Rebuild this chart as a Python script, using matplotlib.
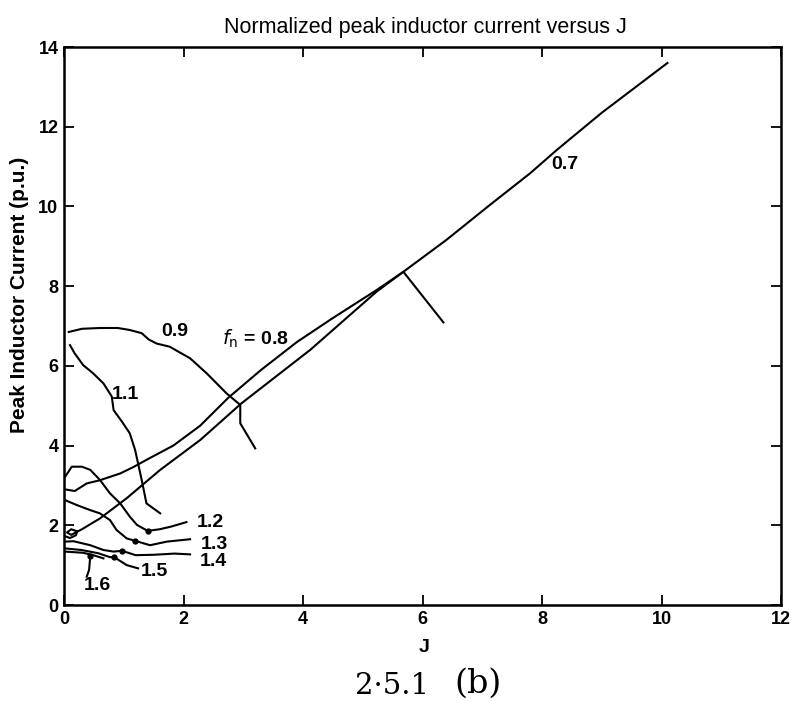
import matplotlib
matplotlib.use("Agg")
import matplotlib.pyplot as plt

plt.rcParams['font.family'] = ['Liberation Sans', 'DejaVu Sans']

# ---------------- data ----------------
# upper line (f_n = 0.7)
c07_x = [0.02, 0.18, 0.38, 0.6, 0.94, 1.16, 1.44, 1.83, 2.28, 2.75, 3.3, 3.9, 4.5, 5.23, 5.68, 6.4, 7.13, 7.8, 8.25, 9.0, 10.1]
c07_y = [2.9, 2.86, 3.05, 3.13, 3.3, 3.46, 3.69, 4.0, 4.5, 5.2, 5.9, 6.6, 7.2, 7.9, 8.36, 9.16, 10.04, 10.83, 11.42, 12.35, 13.6]
# lower line (f_n = 0.8), starting with a small loop, ending with a stub
c08_x = [0.03, 0.1, 0.2, 0.22, 0.12, 0.05, 0.12, 0.3, 0.6, 1.05, 1.61, 2.28, 2.97, 4.12, 5.23, 5.68, 6.35]
c08_y = [1.72, 1.68, 1.75, 1.85, 1.9, 1.82, 1.76, 1.9, 2.17, 2.68, 3.39, 4.14, 5.06, 6.40, 7.86, 8.36, 7.09]
# f_n = 0.9
c09_x = [0.08, 0.3, 0.6, 0.9, 1.1, 1.3, 1.42, 1.55, 1.77, 2.11, 2.39, 2.72, 2.95, 2.95, 3.2]
c09_y = [6.85, 6.93, 6.95, 6.95, 6.9, 6.82, 6.66, 6.56, 6.48, 6.19, 5.81, 5.31, 5.02, 4.56, 3.93]
# f_n = 1.1
c11_x = [0.1, 0.18, 0.32, 0.49, 0.66, 0.8, 0.83, 0.97, 1.1, 1.19, 1.24, 1.3, 1.38, 1.61]
c11_y = [6.52, 6.31, 6.02, 5.81, 5.56, 5.23, 4.89, 4.6, 4.31, 3.89, 3.55, 3.14, 2.55, 2.3]
# f_n = 1.2
c12_x = [0.02, 0.13, 0.3, 0.44, 0.6, 0.77, 0.94, 1.1, 1.22, 1.4]
c12_y = [3.22, 3.47, 3.47, 3.39, 3.14, 2.80, 2.55, 2.22, 2.01, 1.86]
l12_x = [1.4, 1.6, 1.8, 2.05]
l12_y = [1.86, 1.9, 1.97, 2.08]
# f_n = 1.3
c13_x = [0.02, 0.21, 0.44, 0.6, 0.77, 0.88, 1.05, 1.19, 1.44, 1.72, 2.11]
c13_y = [2.63, 2.51, 2.38, 2.3, 2.13, 1.88, 1.67, 1.61, 1.5, 1.59, 1.65]
# f_n = 1.4
c14_x = [0.02, 0.16, 0.44, 0.66, 0.83, 0.97, 1.2, 1.5, 1.85, 2.11]
c14_y = [1.59, 1.6, 1.5, 1.38, 1.34, 1.36, 1.25, 1.26, 1.29, 1.27]
# f_n = 1.5
c15_x = [0.02, 0.29, 0.57, 0.77, 0.84]
c15_y = [1.42, 1.38, 1.30, 1.20, 1.20]
l15_x = [0.84, 1.05, 1.24]
l15_y = [1.20, 1.0, 0.92]
# f_n = 1.6
c16_x = [0.02, 0.32, 0.49, 0.66]
c16_y = [1.34, 1.31, 1.25, 1.17]
l16_x = [0.44, 0.42, 0.38]
l16_y = [1.23, 0.88, 0.71]

# label markers (dots)
dot_x = [1.40, 1.19, 0.97, 0.84, 0.44]
dot_y = [1.86, 1.61, 1.36, 1.20, 1.23]

# labels
lab_text = ['0.7', '0.9', '1.1', '1.2', '1.3', '1.4', '1.5', '1.6']
lab_x = [8.38, 1.85, 1.02, 2.45, 2.52, 2.50, 1.52, 0.56]
lab_y = [11.05, 6.85, 5.27, 2.07, 1.52, 1.10, 0.84, 0.48]
fn_label = r'$f_{\mathrm{n}}$ = 0.8'
fn_x, fn_y = 3.2, 6.68

xticks = [0, 2, 4, 6, 8, 10, 12]
yticks = [0, 2, 4, 6, 8, 10, 12, 14]

# ---------------- figure ----------------
W, H = 797, 701
fig = plt.figure(figsize=(W / 100, H / 100), dpi=100)
ax = fig.add_axes([64 / W, 1 - 605 / H, 717 / W, 558 / H])

lw = 1.5
for xs, ys in [(c07_x, c07_y), (c08_x, c08_y), (c09_x, c09_y), (c11_x, c11_y),
               (c12_x, c12_y), (l12_x, l12_y), (c13_x, c13_y), (c14_x, c14_y),
               (c15_x, c15_y), (l15_x, l15_y), (c16_x, c16_y), (l16_x, l16_y)]:
    ax.plot(xs, ys, color='black', lw=lw, solid_joinstyle='round')
ax.plot(dot_x, dot_y, 'o', color='black', ms=3.5)

for t, x, y in zip(lab_text, lab_x, lab_y):
    ax.text(x, y, t, fontsize=14, fontweight='bold', ha='center', va='center')
ax.text(fn_x, fn_y, fn_label, fontsize=14, fontweight='bold', ha='center', va='center')

ax.set_xlim(0, 12)
ax.set_ylim(0, 14)
ax.set_xticks(xticks)
ax.set_yticks(yticks)
ax.tick_params(direction='in', length=7, width=1.3, top=True, right=True,
               labelsize=13, pad=4)
for lab in ax.get_xticklabels() + ax.get_yticklabels():
    lab.set_fontweight('bold')
for s in ax.spines.values():
    s.set_linewidth(1.8)

fig.text(425 / W, 1 - 28 / H, 'Normalized peak inductor current versus J',
         fontsize=15.5, ha='center', va='center')
fig.text(20 / W, 1 - 295 / H, 'Peak Inductor Current (p.u.)', fontsize=15,
         fontweight='bold', rotation=90, ha='center', va='center')
fig.text(424 / W, 1 - 648 / H, 'J', fontsize=14, fontweight='bold',
         ha='center', va='center')
fig.text(392 / W, 1 - 686 / H, '2·5.1', fontsize=21, family='DejaVu Serif',
         ha='center', va='center')
fig.text(478 / W, 1 - 684 / H, '(b)', fontsize=24, family='DejaVu Serif',
         ha='center', va='center')

fig.savefig('out.png', dpi=100)
